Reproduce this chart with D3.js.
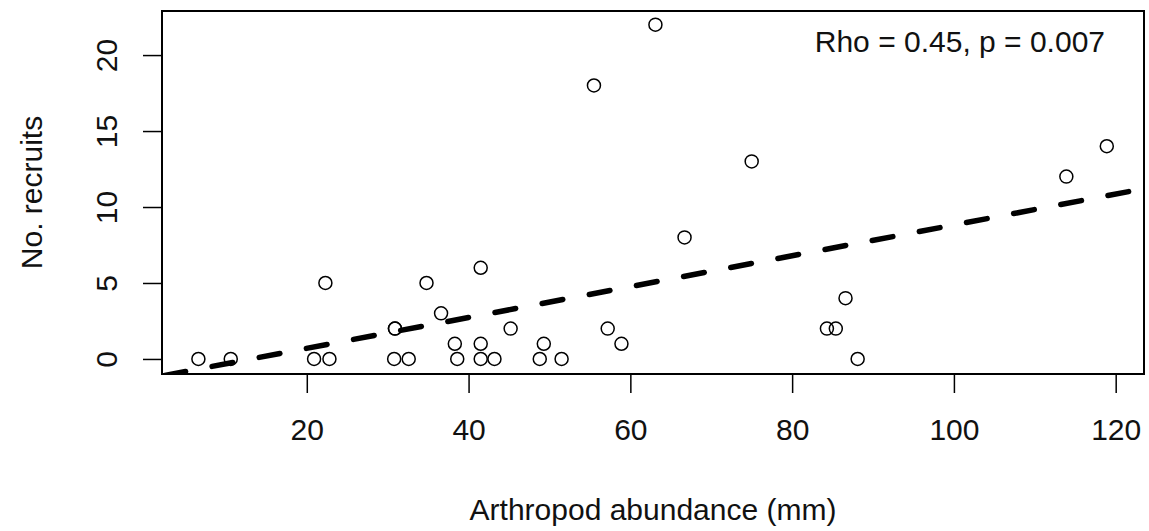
<!DOCTYPE html>
<html>
<head>
<meta charset="utf-8">
<script src="https://cdn.jsdelivr.net/npm/d3@7"></script>
<style>
  html, body { margin: 0; padding: 0; background: #fff; }
  svg { display: block; font-family: 'Liberation Sans', Arial, sans-serif; }
</style>
</head>
<body>
<div id="chart"><svg width="1149" height="531"></svg></div>
<script>
// values
const ARTHROPOD = [6.6, 10.6, 20.9, 22.3, 22.8, 30.8, 30.9, 30.9, 32.6, 34.8, 36.6, 38.3, 38.6,
  41.5, 41.5, 41.5, 43.2, 45.2, 48.8, 49.3, 51.5, 55.5, 57.2, 58.9, 63.1, 66.7, 75.0,
  84.3, 85.4, 86.6, 88.1, 113.9, 118.9];
const RECRUITS = [0, 0, 0, 5, 0, 0, 2, 2, 0, 5, 3, 1, 0,
  6, 1, 0, 0, 2, 0, 1, 0, 18, 2, 1, 22, 8, 13,
  2, 2, 4, 0, 12, 14];
const X_TICKS = [20, 40, 60, 80, 100, 120];
const Y_TICKS = [0, 5, 10, 15, 20];
const FIT = { intercept: -1.33, slope: 0.1015 };
const X_DOMAIN = [2.1, 123.5];
const Y_DOMAIN = [-0.99, 22.9];
const X_TITLE = 'Arthropod abundance (mm)';
const Y_TITLE = 'No. recruits';
const NOTE = 'Rho = 0.45, p = 0.007';

const data = ARTHROPOD.map((x, i) => ({ x: x, y: RECRUITS[i] }));

const SVG = d3.select('#chart svg');
const LEFT = 162, RIGHT = 1144, TOP = 11, BOTTOM = 374;
const FONT = 30;
const TICK = 19;

const X_SCALE = d3.scaleLinear().domain(X_DOMAIN).range([LEFT, RIGHT]);
const Y_SCALE = d3.scaleLinear().domain(Y_DOMAIN).range([BOTTOM, TOP]);

SVG.append('defs')
  .append('clipPath')
  .attr('id', 'plotClip')
  .append('rect')
  .attr('x', LEFT)
  .attr('y', TOP)
  .attr('width', RIGHT - LEFT)
  .attr('height', BOTTOM - TOP);

// x axis, R style
const X_AXIS = d3.axisBottom(X_SCALE).tickValues(X_TICKS).tickSize(TICK).tickPadding(26).tickSizeOuter(0);
const X_AXIS_GROUP = SVG.append('g').attr('id', 'xAxis').attr('transform', `translate(0,${BOTTOM})`);
X_AXIS(X_AXIS_GROUP);
X_AXIS_GROUP.select('.domain').remove();
X_AXIS_GROUP.selectAll('line').style('stroke', '#000').style('stroke-width', 1.5);
X_AXIS_GROUP.selectAll('text')
  .style('font-size', FONT + 'px')
  .style('font-family', 'Liberation Sans, Arial, sans-serif')
  .style('fill', '#111');

// y axis, labels turned like R's las = 0
const Y_AXIS = d3.axisLeft(Y_SCALE).tickValues(Y_TICKS).tickSize(TICK).tickSizeOuter(0);
const Y_AXIS_GROUP = SVG.append('g').attr('id', 'yAxis').attr('transform', `translate(${LEFT},0)`);
Y_AXIS(Y_AXIS_GROUP);
Y_AXIS_GROUP.select('.domain').remove();
Y_AXIS_GROUP.selectAll('line').style('stroke', '#000').style('stroke-width', 1.5);
Y_AXIS_GROUP.selectAll('text')
  .attr('x', null)
  .attr('dy', null)
  .attr('transform', `translate(${117 - LEFT},0) rotate(-90)`)
  .style('text-anchor', 'middle')
  .style('font-size', FONT + 'px')
  .style('font-family', 'Liberation Sans, Arial, sans-serif')
  .style('fill', '#111');

// regression line
SVG.append('g')
  .attr('id', 'fitLine')
  .attr('clip-path', 'url(#plotClip)')
  .append('path')
  .datum(X_DOMAIN)
  .attr('d', d3.line()
    .x((d) => X_SCALE(d))
    .y((d) => Y_SCALE(FIT.intercept + FIT.slope * d)))
  .style('fill', 'none')
  .style('stroke', '#000')
  .style('stroke-width', 5.5)
  .style('stroke-linecap', 'round')
  .style('stroke-dasharray', '21 27')
  .style('stroke-dashoffset', -3);

// points
SVG.append('g')
  .attr('id', 'points')
  .selectAll('circle')
  .data(data)
  .join('circle')
  .attr('cx', (d) => X_SCALE(d.x))
  .attr('cy', (d) => Y_SCALE(d.y))
  .attr('r', 6.5)
  .style('fill', 'none')
  .style('stroke', '#000')
  .style('stroke-width', 1.5);

// box
SVG.append('rect')
  .attr('x', LEFT)
  .attr('y', TOP)
  .attr('width', RIGHT - LEFT)
  .attr('height', BOTTOM - TOP)
  .style('fill', 'none')
  .style('stroke', '#000')
  .style('stroke-width', 2);

// titles
SVG.append('text')
  .attr('x', (LEFT + RIGHT) / 2)
  .attr('y', 520)
  .style('text-anchor', 'middle')
  .style('font-size', FONT + 'px')
  .style('fill', '#111')
  .text(X_TITLE);

SVG.append('text')
  .attr('transform', `translate(42,${(TOP + BOTTOM) / 2}) rotate(-90)`)
  .style('text-anchor', 'middle')
  .style('font-size', FONT + 'px')
  .style('fill', '#111')
  .text(Y_TITLE);

SVG.append('text')
  .attr('x', 1105)
  .attr('y', 52)
  .style('text-anchor', 'end')
  .style('font-size', FONT + 'px')
  .style('fill', '#111')
  .text(NOTE);
</script>
</body>
</html>
